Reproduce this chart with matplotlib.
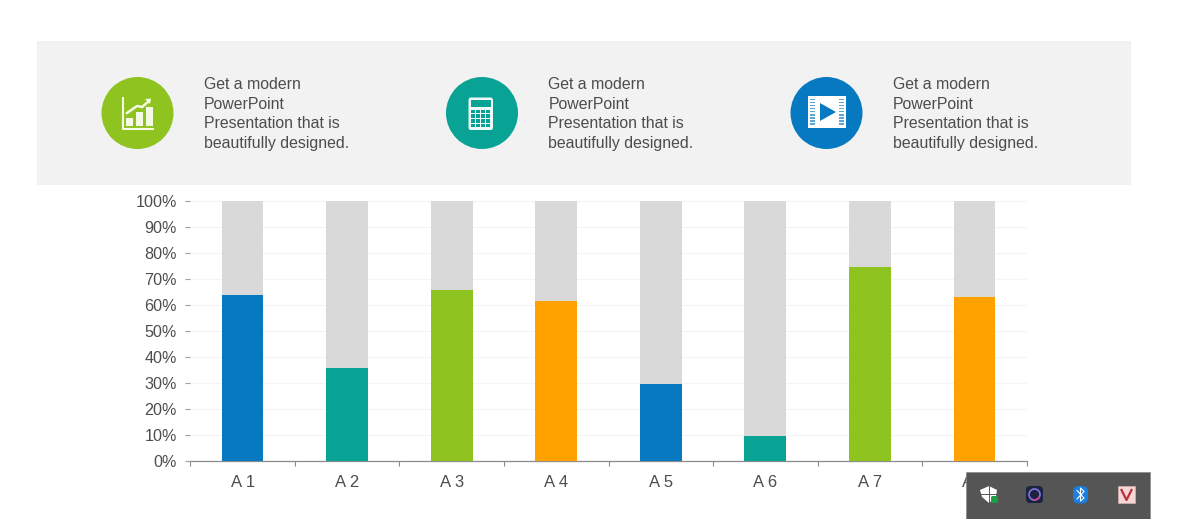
import matplotlib
matplotlib.use("Agg")
import matplotlib.pyplot as plt
from matplotlib.patches import Rectangle, Circle, Polygon, FancyBboxPatch, Wedge

plt.rcParams['font.family'] = ['Liberation Sans', 'DejaVu Sans']

categories = ["A 1", "A 2", "A 3", "A 4", "A 5", "A 6", "A 7", "A 8"]
values = [64, 36, 65.7, 61.5, 29.7, 9.7, 74.7, 63]
remainder = [100 - v for v in values]
bar_colors = ["#0779c1", "#09a396", "#8fc31f", "#ffa200", "#0779c1", "#09a396", "#8fc31f", "#ffa200"]
y_ticks = list(range(0, 101, 10))
y_labels = [f"{t}%" for t in y_ticks]
blurb = "Get a modern\nPowerPoint\nPresentation that is\nbeautifully designed."
W, H = 1200, 519

fig = plt.figure(figsize=(12, 5.19), dpi=100, facecolor="white")


def pixel_axes(z):
    a = fig.add_axes([0, 0, 1, 1], zorder=z)
    a.set_xlim(0, W)
    a.set_ylim(H, 0)
    a.axis("off")
    a.patch.set_alpha(0)
    return a


# Banner
bg = pixel_axes(0)
bg.add_patch(Rectangle((37, 41), 1094, 143.5, fc="#f2f2f2", ec="none"))
for cx, tx, col in [(137.5, 204, "#8fc31f"), (482, 548.5, "#09a396"), (826.5, 893, "#0779c1")]:
    bg.add_patch(Circle((cx, 113), 36, fc=col, ec="none"))
    bg.text(tx, 114, blurb, fontsize=11.4, color="#4d4d4d", va="center", ha="left", linespacing=1.38)

w = "#f4fae3"
# chart icon
bg.plot([122.5, 122.5, 154], [97, 129, 129], color=w, lw=1.5, solid_capstyle="butt")
for left, tp in [(126, 118), (136, 112), (146, 107)]:
    bg.add_patch(Rectangle((left, tp), 6.5, 126 - tp, fc=w, ec="none"))
bg.plot([127, 137, 142, 149], [113, 106, 107, 101], color=w, lw=1.8)
bg.add_patch(Polygon([[145, 99], [151, 98.5], [150, 104]], fc=w, ec="none"))
# calculator icon
t = "#09a396"
bg.add_patch(FancyBboxPatch((468.5, 97.5), 24.5, 32.5, boxstyle="round,pad=0,rounding_size=2.5", fc="#eefaf8", ec="none"))
bg.add_patch(Rectangle((470.5, 99.5), 20.5, 7.5, fc=t, ec="none"))
for i in range(4):
    for j in range(4):
        bg.add_patch(Rectangle((471 + i * 5.1, 109.5 + j * 4.9), 3.6, 3.3, fc=t, ec="none"))
# video icon
bg.add_patch(Rectangle((808, 96), 38, 32, fc="white", ec="none"))
bg.add_patch(Polygon([[820, 103], [820, 121], [836, 112]], fc="#0779c1", ec="none"))
for side in (810, 838.5):
    for k in range(9):
        bg.add_patch(Rectangle((side, 98.5 + k * 3.1), 5, 1.5, fc="#5da6d6", ec="none"))

# Chart
ax = fig.add_axes([190.3 / W, 1 - 461.2 / H, (1026.8 - 190.3) / W, (461.2 - 201) / H], zorder=1)
ax.patch.set_alpha(0)
x = range(len(categories))
ax.bar(x, values, width=0.4, color=bar_colors, zorder=3)
ax.bar(x, remainder, bottom=values, width=0.4, color="#d9d9d9", zorder=3)
ax.set_xlim(-0.5, len(categories) - 0.5)
ax.set_ylim(0, 100)
ax.set_yticks(y_ticks)
ax.set_yticklabels(y_labels)
ax.set_xticks(list(x))
ax.set_xticklabels(categories)
ax.set_xticks([i - 0.5 for i in range(len(categories) + 1)], minor=True)
ax.yaxis.grid(True, color="#f4f4f4", lw=0.8, zorder=0)
ax.set_axisbelow(True)
for s in ("top", "right"):
    ax.spines[s].set_visible(False)
ax.spines["left"].set_visible(False)
ax.spines["bottom"].set_color("#8c8c8c")
ax.spines["bottom"].set_linewidth(0.9)
ax.tick_params(axis="x", which="major", length=0, pad=10, labelsize=12, labelcolor="#4d4d4d")
ax.tick_params(axis="x", which="minor", length=3.5, width=0.8, color="#8c8c8c")
ax.tick_params(axis="y", length=3.5, width=0.8, color="#a0a0a0", pad=6, labelsize=11.6, labelcolor="#4d4d4d")

# Taskbar overlay
top = pixel_axes(5)
top.add_patch(Rectangle((966, 472), 184, 47, fc="#555555", ec="#8a8a8a", lw=0.5))
# shield
top.add_patch(Polygon([[980, 490], [989, 486], [997, 490], [996, 497], [989, 503], [982, 497]], fc="white", ec="none"))
top.plot([989, 989], [486, 503], color="#555555", lw=0.7)
top.plot([980, 997], [494, 494], color="#555555", lw=0.7)
top.add_patch(FancyBboxPatch((991, 496), 7, 7, boxstyle="round,pad=0,rounding_size=1.5", fc="#1f9e4a", ec="none"))
# dark app
top.add_patch(FancyBboxPatch((1026, 486), 17, 17, boxstyle="round,pad=0,rounding_size=4", fc="#1c2340", ec="none"))
top.add_patch(Circle((1034.5, 494.5), 5.5, fc="none", ec="#7c6fd6", lw=1.3))
top.add_patch(Wedge((1034.5, 494.5), 6, 20, 110, width=1.3, fc="#e0447c", ec="none"))
# bluetooth
top.add_patch(FancyBboxPatch((1073, 486), 15, 17.5, boxstyle="round,pad=0,rounding_size=6", fc="#1a7fe0", ec="none"))
top.plot([1077, 1084, 1080.5, 1080.5, 1084, 1077], [490.5, 498, 501, 488, 491.5, 499], color="white", lw=0.8)
# V app
top.add_patch(Rectangle((1118, 486), 17, 17, fc="#f6d6d6", ec="#d9b0b0", lw=0.5))
top.plot([1121.5, 1126.5, 1131.5], [490, 500, 490], color="#b8323a", lw=1.6)

fig.savefig("out.png", dpi=100)
